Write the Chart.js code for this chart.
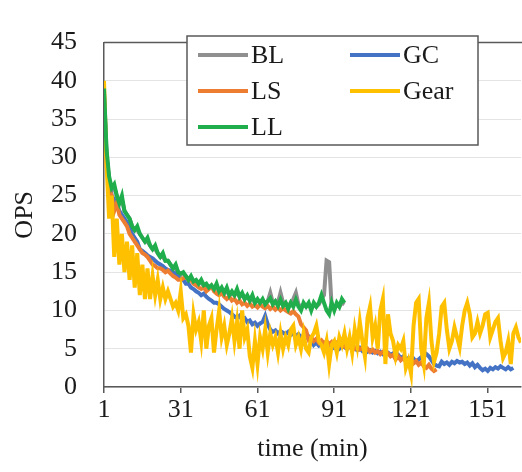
<!DOCTYPE html>
<html>
<head>
<meta charset="utf-8">
<script src="https://cdn.jsdelivr.net/npm/chart.js@4.4.0/dist/chart.umd.min.js"></script>
<style>
  html, body { margin: 0; padding: 0; background: #fff; }
  #wrap { width: 522px; height: 472px; }
</style>
</head>
<body>
<div id="wrap"><canvas id="opsChart"></canvas></div>
<script>
// tick labels
const xTicks = [1, 31, 61, 91, 121, 151];
const yTicks = [0, 5, 10, 15, 20, 25, 30, 35, 40, 45];

// series, one value per minute starting at t = 1
const seriesNames = ['BL', 'GC', 'LS', 'Gear', 'LL'];
const seriesColors = ['#8f8f8f', '#4472c4', '#ed7d31', '#ffc000', '#1fae4b'];

const blValues = [
  38.5, 30.5, 27, 26, 26, 25, 24, 24.5, 23, 22.5,
  22, 21, 20.5, 20.5, 20, 19.5, 19, 19, 18.5, 18,
  18, 17.5, 17, 17, 16.5, 16.5, 16, 15.5, 15.5, 15,
  14.8, 14.8, 14.5, 14, 14.2, 13.8, 13.8, 13.5, 13.6, 13.3,
  13.3, 13, 13, 12.8, 13, 12.5, 12.8, 12.3, 12.5, 12,
  12.2, 12, 12.3, 11.8, 12, 11.5, 11.8, 11.3, 11.6, 11,
  11.3, 11, 11.3, 11, 11.2, 12.3, 11, 11.2, 11, 12.3,
  11, 11, 10.5, 11, 11.5, 12.3, 10.8, 10.5, 10.8, 10.5,
  10.8, 10.3, 10.8, 10.5, 10.8, 11.5, 12, 16.5, 16.3, 10.5,
  10.2, 10.8, 10.5, 11, 10.8
];

const gcValues = [
  38, 30, 27, 25, 24.5, 24, 23, 22.5, 22, 21.5,
  21, 20, 19.5, 19, 18, 17.8, 17.5, 17.2, 17, 16.8,
  16.5, 16.2, 16, 15.8, 15.5, 15.3, 15.2, 15, 14.8, 14.5,
  14.2, 14, 13.5, 13.5, 13, 12.8, 12.5, 12.3, 12, 12.2,
  11.8, 11.5, 11.3, 11, 11, 10.8, 10.5, 10.2, 10, 9.8,
  9.5, 9.2, 9, 9.3, 8.8, 9, 8.5, 8.7, 8.2, 8.4,
  8, 8.3, 8.5, 9.3, 8.2, 7.5, 7.2, 7.4, 7, 7.3,
  7.1, 6.9, 7.2, 6.8, 7, 6.7, 6.9, 6.5, 6.7, 6.4,
  6.6, 6.2, 5.5, 5.8, 5.4, 5.6, 5.3, 5.5, 5.2, 5.4,
  5.1, 5.3, 5, 5.4, 5.2, 5, 5.5, 5.3, 5, 4.8,
  5.1, 4.7, 4.9, 4.6, 4.8, 4.5, 4.7, 4.4, 4.6, 4.3,
  4.6, 4.5, 4.2, 4.4, 4, 4.2, 3.8, 4, 3.6, 3.8,
  3.5, 3.7, 3.3, 3.6, 3.9, 4.1, 4.3, 4, 3.5, 3,
  2.8, 2.7, 3.3, 3, 3.2, 2.9, 3.3, 3.1, 3.4, 3.2,
  3.3, 3, 3.2, 2.8, 3.1, 2.6, 2.9, 2.5, 2.2, 2.4,
  2.1, 2.5, 2.3, 2.6, 2.4, 2.7, 2.5, 2.3, 2.6, 2.3,
  2.5
];

const lsValues = [
  38, 29, 26, 25, 23, 24, 22.5, 22, 21.5, 21,
  20, 19.5, 19, 18.5, 18, 17.5, 17.3, 17, 16.5, 16,
  15.8, 15.5, 15.5, 15.3, 15, 15.2, 14.8, 14.5, 14.3, 14,
  14, 14.2, 14.4, 14, 14, 13.5, 13.3, 13, 12.8, 13,
  12.5, 12.8, 13.2, 12.5, 12.2, 12, 12.3, 11.8, 11.5, 11.8,
  11.3, 11.5, 11, 11.3, 10.8, 11, 10.6, 10.9, 10.5, 10.7,
  10.4, 10.8, 10.5, 10.3, 10.6, 10.2, 10.5, 10.1, 10.4, 10,
  10.3, 10, 9.8, 9.6, 9.9, 9.5, 9.2, 8.2, 7.8, 7.4,
  6.2, 6.5, 6, 6.3, 5.8, 6.1, 5.7, 6, 5.6, 5.9,
  5.5, 5.8, 5.4, 5.7, 5.3, 5.6, 5.2, 5.4, 5, 5.3,
  4.9, 5.1, 4.7, 5, 4.6, 4.9, 4.5, 4.7, 4.3, 4.6,
  4.2, 4.4, 4, 4.2, 3.6, 4, 3.5, 3.8, 3.3, 3,
  3.5, 3.1, 3.4, 2.9, 3.2, 2.7, 2.5, 2.9, 2.4, 2.1,
  2.3
];

const gearValues = [
  40, 29, 22, 25, 17, 22, 16, 20, 15, 19,
  14, 18.5, 13, 17.5, 12, 16, 11.5, 15.5, 11.5, 14.5,
  12, 14, 11.5, 13, 11.5, 12.5, 11.5, 10.5, 11, 10,
  12.5, 9, 9.5, 8, 4.5, 9.5, 7.5, 8.5, 6, 10,
  5, 8, 9, 4.5, 7.5, 10, 6.5, 8, 5.5, 7,
  9, 6, 8.5, 5, 10, 6.5, 7.5, 4, 2.5, 6,
  3, 6.5, 5, 7.5, 4.5, 7, 5.5, 6.5, 4.5, 7,
  5, 6.5, 5.5, 7.5, 8, 5.5, 6.5, 5, 7, 5,
  4.5, 6.5, 7, 8, 6, 5.5, 4.5, 6, 3, 5.5,
  6, 4.5, 6.5, 5.5, 7, 5, 6.5, 4.5, 7.5, 5.5,
  8.5, 6, 4, 9, 10.5, 6.5, 8, 5, 10, 11.5,
  3, 9.5, 7, 6, 4, 5.5, 5, 6, 2.5, 3.5,
  1.8, 8, 11, 11.5, 5, 3, 9, 11, 6, 3.3,
  4.5, 7, 10.5, 11, 7.5, 5, 6, 7.8, 6.5, 5.2,
  8, 10, 11, 9.5, 6.5, 7, 8.5, 7, 8, 9.5,
  9.7, 6.5, 7.5, 8.5, 9, 6, 3.8, 4.5, 6, 3,
  7, 7.8, 6.5, 5.8
];

const llValues = [
  39, 31, 27.5, 26, 26.5, 25, 24, 25, 23, 22.5,
  22, 21, 20.5, 21, 20, 19.5, 19, 19.5, 18.5, 18,
  18.5, 17.5, 17, 17.5, 16.5, 16.5, 16, 15.5, 16, 15,
  14.8, 15, 14.5, 14, 14.5, 13.8, 14, 13.5, 14, 13.3,
  13.5, 13, 13.3, 12.8, 13.5, 12.5, 13, 12.3, 13, 12,
  12.5, 12, 12.8, 11.8, 12.3, 11.5, 12, 11.3, 12, 11,
  11.5, 11, 11.5, 10.8, 11.2, 11.6, 10.8, 11.2, 10.6, 11.4,
  10.6, 11, 10.2, 11, 10.5, 11.4, 10.5, 10, 11, 10.5,
  11, 10, 11, 10.5, 11, 12, 11, 10, 9.5, 11,
  10, 11, 10.5, 11.5, 11
];

const allValues = [blValues, gcValues, lsValues, gearValues, llValues];
// green on top, grey underneath
const drawOrder = [4, 3, 2, 1, 0];

const serif = "'Liberation Serif', 'Times New Roman', serif";
const axisGrey = '#595959';

function toPoints(values) {
  return values.map((v, i) => ({ x: i + 1, y: v }));
}

// boxed two-column legend like the original
const boxLegend = {
  id: 'boxLegend',
  afterDraw(chart) {
    const ctx = chart.ctx;
    const box = { left: 187, top: 36, width: 291, height: 109 };
    const slots = [
      { x: 198, y: 55 }, { x: 350, y: 55 },
      { x: 198, y: 91 }, { x: 350, y: 91 },
      { x: 198, y: 127 }
    ];
    ctx.save();
    ctx.fillStyle = '#fff';
    ctx.fillRect(box.left, box.top, box.width, box.height);
    ctx.strokeStyle = axisGrey;
    ctx.lineWidth = 1.5;
    ctx.strokeRect(box.left, box.top, box.width, box.height);
    ctx.font = '26px ' + serif;
    ctx.textBaseline = 'middle';
    ctx.fillStyle = '#1a1a1a';
    chart.data.datasets.forEach((ds, i) => {
      const s = slots[i];
      ctx.strokeStyle = ds.borderColor;
      ctx.lineWidth = 4;
      ctx.beginPath();
      ctx.moveTo(s.x, s.y);
      ctx.lineTo(s.x + 50, s.y);
      ctx.stroke();
      ctx.fillText(ds.label, s.x + 53, s.y + 1);
    });
    ctx.restore();
  }
};

// dark frame line along the top of the plot
const topFrame = {
  id: 'topFrame',
  afterDatasetsDraw(chart) {
    const { ctx, chartArea } = chart;
    ctx.save();
    ctx.strokeStyle = axisGrey;
    ctx.lineWidth = 1.5;
    ctx.beginPath();
    ctx.moveTo(chartArea.left, chartArea.top);
    ctx.lineTo(chart.width, chartArea.top);
    ctx.stroke();
    ctx.restore();
  }
};

const ctx = document.getElementById('opsChart').getContext('2d');
const opsChart = new Chart(ctx, {
  type: 'line',
  data: {
    datasets: seriesNames.map((name, i) => ({
      label: name,
      data: toPoints(allValues[i]),
      borderColor: seriesColors[i],
      backgroundColor: seriesColors[i],
      borderWidth: 4,
      pointRadius: 0,
      tension: 0,
      order: drawOrder[i]
    }))
  },
  options: {
    responsive: true,
    maintainAspectRatio: false,
    animation: false,
    layout: { padding: { left: 8, top: 21, right: 1, bottom: 0 } },
    plugins: {
      legend: { display: false },
      tooltip: { enabled: false }
    },
    scales: {
      x: {
        type: 'linear',
        min: 1,
        max: 164,
        afterBuildTicks: (scale) => { scale.ticks = xTicks.map(v => ({ value: v })); },
        afterFit: (scale) => { scale.height = 85; },
        grid: { drawOnChartArea: false, drawTicks: true, tickLength: 6, color: axisGrey, lineWidth: 1.5 },
        border: { display: true, color: axisGrey, width: 1.5 },
        ticks: { color: '#1a1a1a', padding: 2, maxRotation: 0, font: { family: serif, size: 26 } },
        title: {
          display: true,
          text: 'time (min)',
          color: '#1a1a1a',
          padding: { top: 0, bottom: 7 },
          font: { family: serif, size: 26 }
        }
      },
      y: {
        min: 0,
        max: 45,
        afterBuildTicks: (scale) => { scale.ticks = yTicks.map(v => ({ value: v })); },
        afterFit: (scale) => { scale.width = 96; },
        grid: { color: '#e4e4e4', lineWidth: 1, drawTicks: false },
        border: { display: true, color: axisGrey, width: 1.5 },
        ticks: { color: '#1a1a1a', padding: 27, font: { family: serif, size: 26 } },
        title: {
          display: true,
          text: 'OPS',
          color: '#1a1a1a',
          padding: { top: 2, bottom: 0 },
          font: { family: serif, size: 26 }
        }
      }
    }
  },
  plugins: [topFrame, boxLegend]
});
</script>
</body>
</html>
